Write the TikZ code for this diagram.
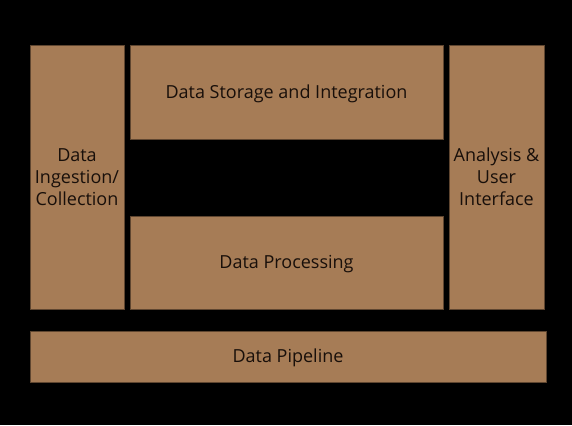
\documentclass[tikz,border=0pt]{standalone}
\usepackage{fontspec}
\setmainfont{Open Sans}
\usetikzlibrary{positioning}
\definecolor{boxfill}{RGB}{166,124,86}
\definecolor{boxline}{RGB}{95,70,48}
\definecolor{boxtext}{RGB}{24,15,10}
\tikzset{
	layer/.style={draw=boxline,fill=boxfill,text=boxtext,line width=0.8pt,inner sep=0pt,
		align=center,font=\fontsize{18}{22}\selectfont},
	oneline/.style={text height=12.8pt,text depth=0pt},
}

\begin{document}
\begin{tikzpicture}[x=1pt,y=-1pt]
	\fill[black] (0,0) rectangle (572,425);
	\useasboundingbox (0,0) rectangle (572,425);
	\node[layer,minimum width=94pt,minimum height=264pt] (ingest) at (77,177) {Data\\Ingestion/\\Collection};
	\node[layer,oneline,minimum width=313pt,minimum height=94pt] (storage) at (286.5,92) {Data Storage and Integration};
	\node[layer,oneline,minimum width=313pt,minimum height=93pt] (process) at (286.5,262.5) {Data Processing};
	\node[layer,minimum width=95pt,minimum height=264pt] (analysis) at (496.5,177) {Analysis \&\\User\\Interface};
	\node[layer,oneline,minimum width=516pt,minimum height=51pt] (pipeline) at (288,356.5) {Data Pipeline};
\end{tikzpicture}
\end{document}
